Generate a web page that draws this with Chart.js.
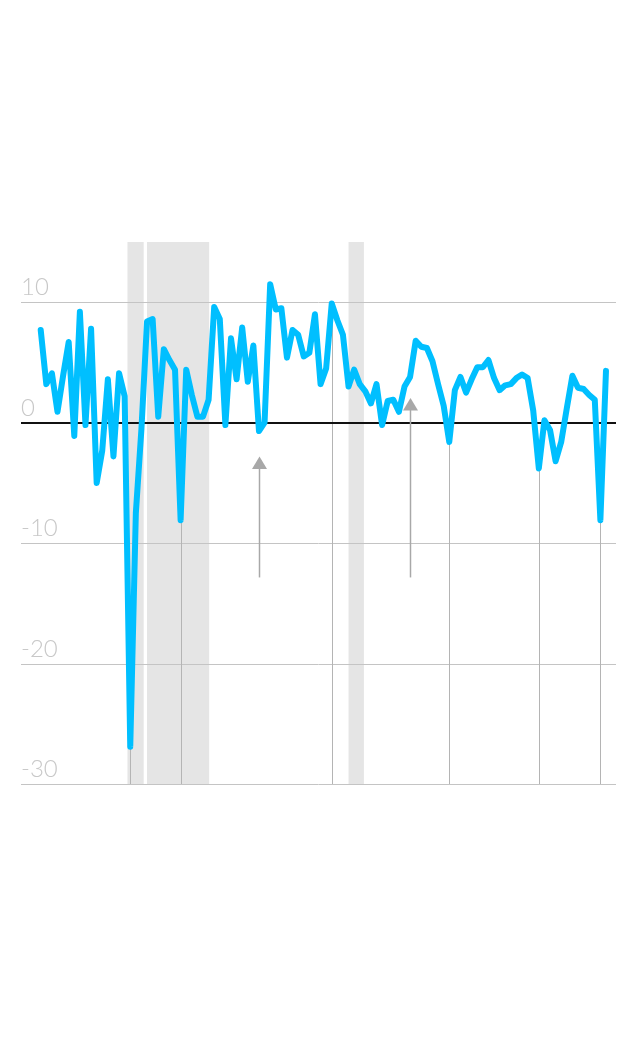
<!DOCTYPE html>
<html>
<head>
<meta charset="utf-8">
<script src="https://cdn.jsdelivr.net/npm/chart.js@4"></script>
<style>
  html, body { margin: 0; padding: 0; background: #fff; }
  canvas { display: block; }
</style>
</head>
<body>
<canvas id="growthChart" width="640" height="1052"></canvas>
<script>
// quarterly growth, one value per quarter
const growth = [
    7.7, 3.2, 4.1, 0.9, 3.9, 6.7, -1.1, 9.2, -0.2, 7.8,
    -5.0, -2.3, 3.6, -2.8, 4.1, 2.2, -26.9, -7.5, -0.5, 8.4,
    8.6, 0.5, 6.1, 5.2, 4.4, -8.1, 4.4, 2.3, 0.5, 0.5,
    1.9, 9.6, 8.6, -0.2, 7.0, 3.6, 7.9, 3.4, 6.4, -0.7,
    0.0, 11.5, 9.4, 9.5, 5.4, 7.7, 7.3, 5.5, 5.8, 9.0,
    3.2, 4.5, 9.9, 8.5, 7.3, 3.0, 4.4, 3.2, 2.6, 1.6,
    3.2, -0.2, 1.8, 1.9, 0.9, 3.0, 3.8, 6.8, 6.3, 6.2,
    5.1, 3.2, 1.4, -1.6, 2.7, 3.8, 2.5, 3.6, 4.6, 4.6,
    5.2, 3.7, 2.7, 3.1, 3.2, 3.7, 4.0, 3.7, 1.0, -3.8,
    0.2, -0.6, -3.2, -1.6, 1.2, 3.9, 2.9, 2.8, 2.3, 1.9,
    -8.1, 4.3
];

// shaded periods (in quarter index units)
const recessions = [[15.5, 18.4], [19.0, 30.1], [55.0, 57.75]];
// quarters that get a drop line to the bottom
const dropLines = [16, 25, 52, 73, 89, 100];
// arrows: quarter, from value, tip value
const arrows = [
    {q: 39, from: -12.85, to: -2.8},
    {q: 66, from: -12.85, to: 2.05}
];
const yTicks = [10, 0, -10, -20, -30];
const yLabels = ['10', '0', '-10', '-20', '-30'];

const points = growth.map((v, i) => ({x: i, y: v}));

// 배경, 격자, 주석
const overlay = {
    id: 'overlay',
    beforeDatasetsDraw(chart) {
        const {ctx, chartArea: a, scales: {x, y}} = chart;
        ctx.save();

        ctx.fillStyle = '#e5e5e5';
        recessions.forEach(([s, e]) => {
            const x0 = x.getPixelForValue(s);
            const x1 = x.getPixelForValue(e);
            ctx.fillRect(x0, a.top, x1 - x0, a.bottom - a.top);
        });

        ctx.font = '300 24px Lato';
        ctx.textBaseline = 'alphabetic';
        ctx.textAlign = 'left';
        yTicks.forEach((v, i) => {
            const py = Math.round(y.getPixelForValue(v));
            if (v !== 0) {
                ctx.strokeStyle = '#c4c4c4';
                ctx.lineWidth = 1;
                ctx.beginPath();
                ctx.moveTo(a.left, py + 0.5);
                ctx.lineTo(a.right, py + 0.5);
                ctx.stroke();
            }
            ctx.fillStyle = '#c8c8c8';
            ctx.fillText(yLabels[i], a.left, py - 7);
        });

        ctx.strokeStyle = '#b4b4b4';
        ctx.lineWidth = 1;
        dropLines.forEach(q => {
            const px = Math.round(x.getPixelForValue(q)) + 0.5;
            ctx.beginPath();
            ctx.moveTo(px, y.getPixelForValue(growth[q]));
            ctx.lineTo(px, a.bottom);
            ctx.stroke();
        });

        // zero line
        const zy = Math.round(y.getPixelForValue(0));
        ctx.strokeStyle = '#111';
        ctx.lineWidth = 2;
        ctx.beginPath();
        ctx.moveTo(a.left, zy);
        ctx.lineTo(a.right, zy);
        ctx.stroke();

        ctx.strokeStyle = '#a8a8a8';
        ctx.fillStyle = '#a8a8a8';
        arrows.forEach(ar => {
            const px = Math.round(x.getPixelForValue(ar.q)) + 0.5;
            const tip = y.getPixelForValue(ar.to);
            ctx.lineWidth = 1.5;
            ctx.beginPath();
            ctx.moveTo(px, y.getPixelForValue(ar.from));
            ctx.lineTo(px, tip + 10);
            ctx.stroke();
            ctx.beginPath();
            ctx.moveTo(px, tip);
            ctx.lineTo(px - 7.5, tip + 12.5);
            ctx.lineTo(px + 7.5, tip + 12.5);
            ctx.closePath();
            ctx.fill();
        });

        ctx.restore();
    }
};

new Chart(document.getElementById('growthChart'), {
    type: 'line',
    data: {
        datasets: [{
            data: points,
            borderColor: '#00bfff',
            borderWidth: 6,
            borderCapStyle: 'round',
            borderJoinStyle: 'round',
            pointRadius: 0,
            tension: 0,
            fill: false,
            clip: false
        }]
    },
    options: {
        responsive: false,
        animation: false,
        devicePixelRatio: 1,
        layout: {padding: {left: 21, right: 24, top: 242, bottom: 268}},
        plugins: {legend: {display: false}, tooltip: {enabled: false}},
        scales: {
            x: {type: 'linear', min: -3.52, max: 102.79, display: false},
            y: {min: -30, max: 15, display: false}
        }
    },
    plugins: [overlay]
});
</script>
</body>
</html>
